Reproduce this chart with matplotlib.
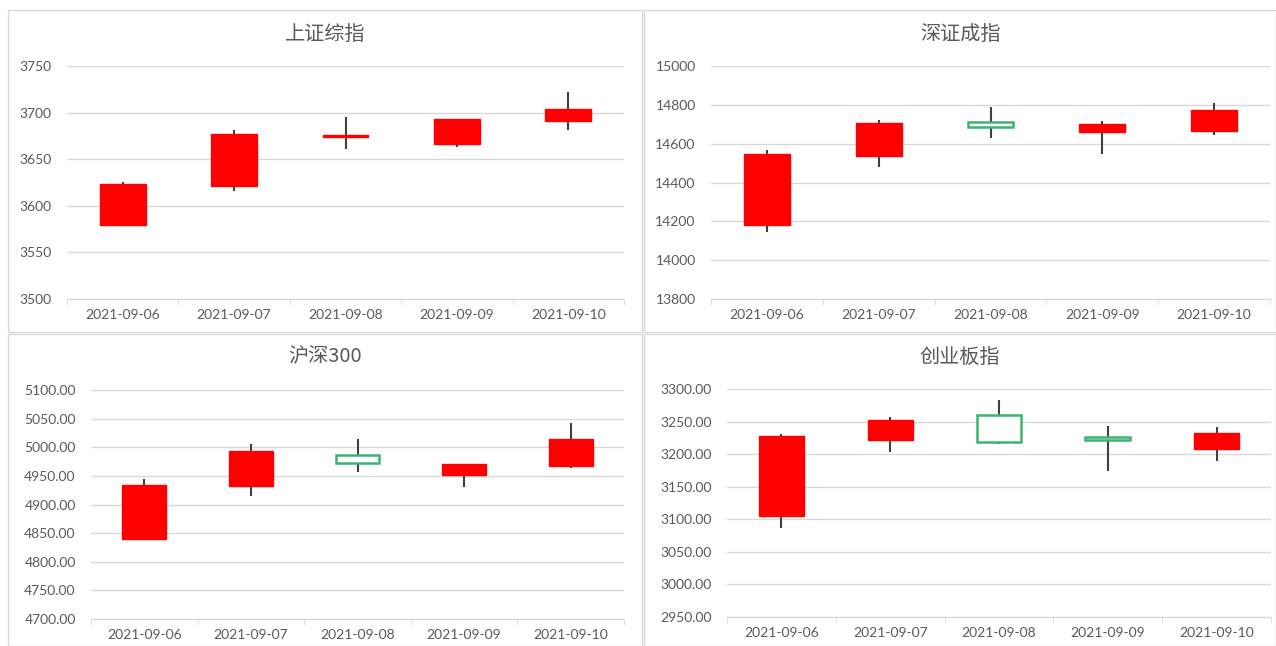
import matplotlib.pyplot as plt
from matplotlib.patches import Rectangle

dates = ["2021-09-06", "2021-09-07", "2021-09-08", "2021-09-09", "2021-09-10"]

# 上证综指
sh_open = [3579.3, 3621.1, 3674.0, 3666.0, 3690.7]
sh_high = [3625.7, 3681.4, 3695.0, 3693.6, 3722.5]
sh_low = [3579.0, 3615.7, 3661.0, 3662.9, 3681.8]
sh_close = [3622.9, 3677.1, 3675.5, 3693.6, 3703.9]

# 深证成指
sz_open = [14179, 14539, 14710, 14659, 14667]
sz_high = [14565, 14722, 14787, 14717, 14808]
sz_low = [14143, 14482, 14628, 14546, 14645]
sz_close = [14547, 14705, 14686, 14702, 14772]

# 沪深300
hs_open = [4840.5, 4932.7, 4986.9, 4951.9, 4967.1]
hs_high = [4944.3, 5006.1, 5013.7, 4970.6, 5042.3]
hs_low = [4837.6, 4915.7, 4957.1, 4930.3, 4963.0]
hs_close = [4934.4, 4993.9, 4972.3, 4970.6, 5014.3]

# 创业板指
cy_open = [3105.3, 3222.3, 3260.1, 3225.9, 3207.5]
cy_high = [3231.0, 3256.6, 3282.6, 3243.8, 3241.7]
cy_low = [3085.9, 3203.9, 3215.7, 3173.8, 3190.1]
cy_close = [3228.5, 3252.5, 3219.3, 3221.8, 3233.1]

W, H = 1276, 646
fig = plt.figure(figsize=(W / 100, H / 100), dpi=100)
fig.patch.set_facecolor("white")

# panel frames (pixels: x0, y0, x1, y1)
frames = [(8, 10, 642, 332), (644, 10, 1276, 332), (8, 334, 642, 646), (644, 334, 1276, 646)]
for x0, y0, x1, y1 in frames:
    fig.patches.append(Rectangle((x0 / W, 1 - y1 / H), (x1 - x0) / W, (y1 - y0) / H,
                                 transform=fig.transFigure, fill=False,
                                 edgecolor="#d9d9d9", linewidth=1.0))

panels = [
    ("上证综指", sh_open, sh_high, sh_low, sh_close, (3500, 3750, 50), "{:.0f}", (67, 624, 66, 299), 34),
    ("深证成指", sz_open, sz_high, sz_low, sz_close, (13800, 15000, 200), "{:.0f}", (711, 1270, 66, 299), 34),
    ("沪深300", hs_open, hs_high, hs_low, hs_close, (4700, 5100, 50), "{:.2f}", (91, 624, 390, 619), 357),
    ("创业板指", cy_open, cy_high, cy_low, cy_close, (2950, 3300, 50), "{:.2f}", (727, 1271, 389, 617), 357),
]

red = "#ff0000"
green = "#3cb371"
wick = "#404040"
tick_col = "#595959"

for i, (title, o, h, l, c, (ymin, ymax, step), fmt, (px0, px1, py0, py1), ty) in enumerate(panels):
    ax = fig.add_axes([px0 / W, 1 - py1 / H, (px1 - px0) / W, (py1 - py0) / H])
    for k in range(len(dates)):
        ax.vlines(k, l[k], h[k], color=wick, linewidth=1.5, zorder=2)
        lo, hi = min(o[k], c[k]), max(o[k], c[k])
        bw = 0.41
        if c[k] >= o[k]:
            ax.add_patch(Rectangle((k - bw / 2, lo), bw, max(hi - lo, 0.8 * step / 50 * 0.6),
                                   facecolor=red, edgecolor=red, linewidth=1.0, zorder=3))
        else:
            ax.add_patch(Rectangle((k - bw / 2, lo), bw, hi - lo,
                                   facecolor="white", edgecolor=green, linewidth=1.8, zorder=3))
    ax.set_xlim(-0.5, len(dates) - 0.5)
    ax.set_ylim(ymin, ymax)
    yt = list(range(ymin, ymax + 1, step))
    ax.set_yticks(yt)
    ax.set_yticklabels([fmt.format(v) for v in yt], fontsize=10, color=tick_col, family="Lato")
    ax.set_xticks(range(len(dates)))
    ax.set_xticklabels(dates, fontsize=10, color=tick_col, family="Lato")
    ax.set_xticks([k - 0.5 for k in range(len(dates) + 1)], minor=True)
    ax.tick_params(axis="x", which="major", length=0, pad=7)
    ax.tick_params(axis="x", which="minor", length=4, color="#d9d9d9", direction="out")
    ax.tick_params(axis="y", length=0, pad=11)
    ax.grid(axis="y", color="#d9d9d9", linewidth=1.0, zorder=0)
    ax.set_axisbelow(True)
    for s in ["top", "right", "left"]:
        ax.spines[s].set_visible(False)
    ax.spines["bottom"].set_color("#d9d9d9")
    ax.spines["bottom"].set_zorder(1)
    fx = (frames[i][0] + frames[i][2]) / 2 / W
    fig.text(fx, 1 - ty / H, title, ha="center", va="center", fontsize=14.5,
             color="#595959", family=["Noto Sans CJK SC", "DejaVu Sans"])

fig.savefig("out.png", dpi=100)
